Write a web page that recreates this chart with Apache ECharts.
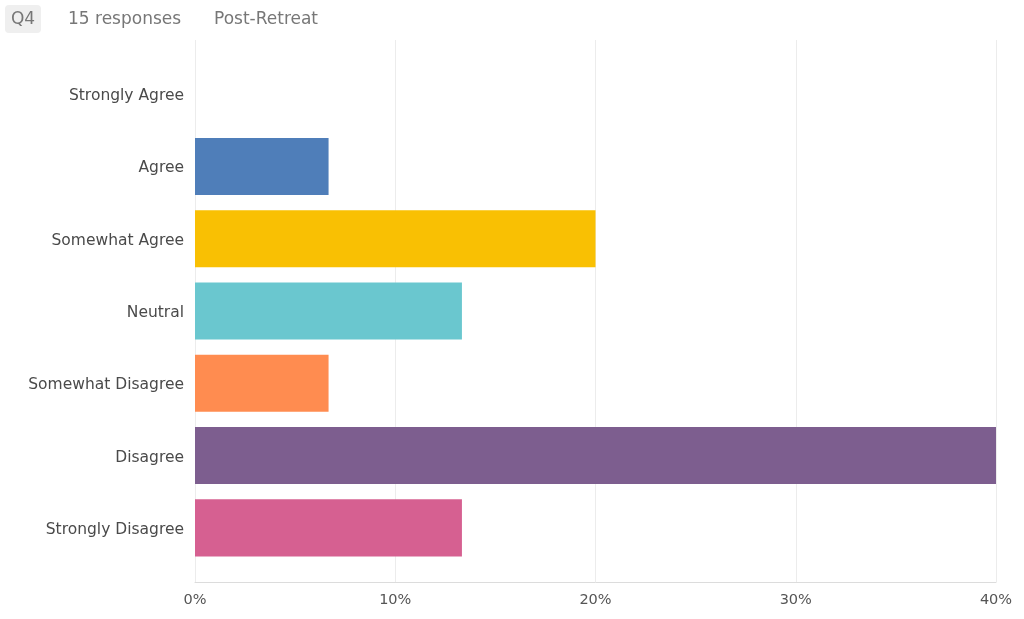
<!DOCTYPE html>
<html>
<head>
<meta charset="utf-8">
<script src="https://cdn.jsdelivr.net/npm/echarts@6/dist/echarts.min.js"></script>
<style>
  html, body { margin: 0; padding: 0; background: #fff; }
  #chart { width: 1024px; height: 619px; }
</style>
</head>
<body>
<div id="chart"></div>
<script>
let categories = ['Strongly Agree', 'Agree', 'Somewhat Agree', 'Neutral', 'Somewhat Disagree', 'Disagree', 'Strongly Disagree']
let percents = [0, 6.67, 20, 13.33, 6.67, 40, 13.33]
let colors = ['#4f7eb9', '#4f7eb9', '#f9c003', '#6ac7cf', '#ff8c50', '#7d5e8f', '#d66091']
let ticks = [0, 10, 20, 30, 40]

const font = 'DejaVu Sans'

function chart() {
  var chart = echarts.init(document.getElementById('chart'), null, {renderer: 'canvas'})

  let option = {
    animation: false,
    textStyle: { fontFamily: font },
    graphic: [
      { type: 'rect', shape: { x: 5, y: 5, width: 36, height: 28, r: 4 }, style: { fill: '#efefef' } },
      { type: 'text', x: 23, y: 20, style: { text: 'Q4', fill: '#777', font: '17px ' + font, align: 'center', verticalAlign: 'middle' } },
      { type: 'text', x: 68, y: 20, style: { text: '15 responses', fill: '#777', font: '17px ' + font, verticalAlign: 'middle' } },
      { type: 'text', x: 214, y: 20, style: { text: 'Post-Retreat', fill: '#777', font: '17px ' + font, verticalAlign: 'middle' } }
    ],
    grid: [
      { left: 195, right: 28, top: 40, bottom: 37 },
      { left: 195, right: 28, top: 58, bottom: 55 }
    ],
    xAxis: [
      {
        gridIndex: 0,
        type: 'value',
        min: ticks[0],
        max: ticks[ticks.length - 1],
        interval: 10,
        axisLine: { show: true, lineStyle: { color: '#dcdcdc' } },
        axisTick: { show: false },
        splitLine: { show: true, lineStyle: { color: '#ececec' } },
        axisLabel: { formatter: '{value}%', color: '#555', fontSize: 14.5, margin: 11, fontFamily: font }
      },
      {
        gridIndex: 1,
        type: 'value',
        min: ticks[0],
        max: ticks[ticks.length - 1],
        show: false
      }
    ],
    yAxis: [
      {
        gridIndex: 0,
        type: 'category',
        data: categories,
        show: false
      },
      {
        gridIndex: 1,
        type: 'category',
        data: categories,
        inverse: true,
        axisLine: { show: false },
        axisTick: { show: false },
        axisLabel: {
          color: '#4a4a4a',
          margin: 11,
          formatter: '{a|{value}}',
          rich: { a: { fontSize: 15.5, fontFamily: font, color: '#4a4a4a', padding: [4, 0, 0, 0] } }
        }
      }
    ],
    series: [
      {
        type: 'bar',
        xAxisIndex: 1,
        yAxisIndex: 1,
        barCategoryGap: '21%',
        data: percents.map((v, i) => ({ value: v, itemStyle: { color: colors[i] } }))
      }
    ]
  }
  chart.setOption(option)
}

chart()
</script>
</body>
</html>
